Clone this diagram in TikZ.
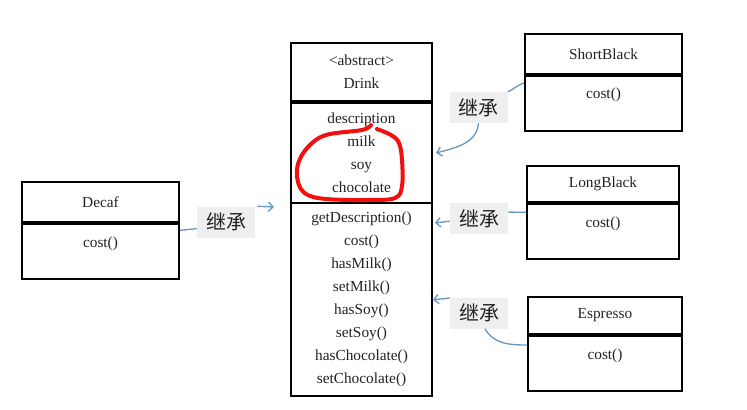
\documentclass[tikz,border=0pt]{standalone}
\usepackage{fontspec}
\setmainfont{Liberation Serif}
\newfontfamily\cjk{Noto Sans CJK SC}
\usetikzlibrary{arrows.meta}
\definecolor{inhblue}{HTML}{6A96C4}
\definecolor{labelgray}{HTML}{EFEFEF}
\definecolor{markred}{HTML}{F01010}
\definecolor{textgray}{HTML}{222222}
\newcommand{\upx}{0.75pt}

\begin{document}
\begin{tikzpicture}[x=0.75pt, y=-0.75pt,
    every node/.style={inner sep=0pt, text=textgray, font=\fontsize{11.5}{17.25}\selectfont},
    headbox/.style={draw, line width=1.5pt, align=center},
    opsbox/.style={draw, line width=1.5pt, anchor=north, text height=17.25pt, text depth=24pt},
    inhlabel/.style={fill=labelgray, font=\cjk\fontsize{15}{15}\selectfont, minimum width=58*\upx, minimum height=31*\upx},
    link/.style={draw=inhblue, line width=1pt},
    inh/.style={link, -{Straight Barb[length=3.5pt,width=7pt]}}]
    \useasboundingbox (0,0) rectangle (747,410);

    % Drink
    \node[headbox, anchor=south, minimum width=141*\upx, minimum height=58*\upx] (drinkname) at (361.5,102) {<abstract>\\Drink};
    \node[headbox, anchor=north, minimum width=141*\upx, minimum height=100*\upx] (drinkattrs) at (361.5,102) {description\\milk\\soy\\chocolate};
    \node[headbox, anchor=north, minimum width=141*\upx, minimum height=193*\upx] (drinkops) at (361.5,202) {getDescription()\\cost()\\hasMilk()\\setMilk()\\hasSoy()\\setSoy()\\hasChocolate()\\setChocolate()};

    % red mark
    \draw[markred, line width=3pt, line cap=round, line join=round] plot[smooth, tension=0.6] coordinates {(371,125) (362,130) (326,135) (308,147) (298,164) (298,182) (306,194) (326,199) (368,200) (395,198) (402,186) (402,160) (399,143) (391,135) (377,129)};

    % Decaf
    \node[headbox, anchor=south, minimum width=157*\upx, minimum height=40*\upx] (decafname) at (100.5,223) {Decaf};
    \node[opsbox, minimum width=157*\upx] (decafops) at (100.5,223) {cost()};

    % ShortBlack
    \node[headbox, anchor=south, minimum width=157*\upx, minimum height=40*\upx] (shortname) at (603.5,75) {ShortBlack};
    \node[opsbox, minimum width=157*\upx] (shortops) at (603.5,75) {cost()};

    % LongBlack
    \node[headbox, anchor=south, minimum width=152*\upx, minimum height=36*\upx] (longname) at (603,203) {LongBlack};
    \node[opsbox, minimum width=152*\upx] (longops) at (603,203) {cost()};

    % Espresso
    \node[headbox, anchor=south, minimum width=154*\upx, minimum height=37*\upx] (espname) at (605,335) {Espresso};
    \node[opsbox, minimum width=154*\upx] (espops) at (605,335) {cost()};

    % inheritance labels
    \node[inhlabel] (decafinh) at (226,222) {继承};
    \node[inhlabel] (shortinh) at (478.5,107.5) {继承};
    \node[inhlabel] (longinh) at (479,218.5) {继承};
    \node[inhlabel] (espinh) at (479,313) {继承};

    % arrow ends
    \coordinate (decaftip) at (274,207);
    \coordinate (shorttip) at (436,153);
    \coordinate (longtip) at (435,223);
    \coordinate (esptip) at (433,300);

    % connectors
    \draw[link] ([yshift=-5.5pt]decafops.north east) -- ([yshift=-5pt]decafinh.west);
    \draw[inh, shorten <=1.5pt] (decafinh.north east) -- (decaftip);
    \draw[link] ([yshift=-6pt]shortops.north west) to[out=195, in=20] (shortinh.north east);
    \draw[inh] (shortinh.south) to[out=-95, in=15] (shorttip);
    \draw[link] ([yshift=-7pt]longops.north west) -- ([yshift=4.8pt]longinh.east);
    \draw[inh] ([yshift=-2pt]longinh.west) -- (longtip);
    \draw[link] ([xshift=4.5pt]espinh.south) to[out=-60, in=180] ([yshift=-7.5pt]espops.north west);
    \draw[inh] ([yshift=-0.5pt]espinh.north west) to[out=190, in=10] (esptip);
\end{tikzpicture}
\end{document}
